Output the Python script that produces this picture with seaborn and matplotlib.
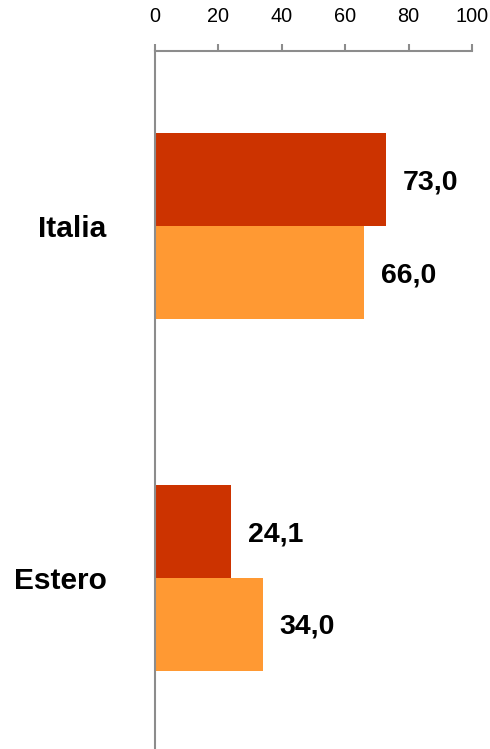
import matplotlib
matplotlib.use("Agg")
import matplotlib.pyplot as plt
import seaborn as sns
import pandas as pd

# data
categories = ["Italia", "Estero"]
series_names = ["Serie 1", "Serie 2"]
serie_1 = [73.0, 24.1]
serie_2 = [66.0, 34.0]
colors = ["#CC3300", "#FF9933"]

df = pd.DataFrame({
    "area": categories * 2,
    "serie": [series_names[0]] * 2 + [series_names[1]] * 2,
    "valore": serie_1 + serie_2,
})

sns.set_style("white")
plt.rcParams["font.family"] = ["Liberation Sans", "DejaVu Sans"]

fig = plt.figure(figsize=(4.9, 7.49), dpi=100)
ax = fig.add_axes([155 / 490, 0.0, 317 / 490, 698 / 749])

sns.barplot(data=df, x="valore", y="area", hue="serie", order=categories,
            hue_order=series_names, palette=colors, orient="h", width=0.526,
            saturation=1, legend=False, ax=ax, linewidth=0)

# value labels
for cont in ax.containers:
    for bar in cont:
        v = bar.get_width()
        yc = bar.get_y() + bar.get_height() / 2
        ax.annotate(f"{v:.1f}".replace(".", ","), (v, yc), xytext=(12, -2),
                    textcoords="offset points", va="center", ha="left",
                    fontsize=20.5, fontweight="bold", color="black")

ax.set_xlim(0, 100)
ax.set_ylim(1.486, -0.497)
ax.set_xticks([0, 20, 40, 60, 80, 100])
ax.xaxis.tick_top()
ax.set_xlabel("")
ax.set_ylabel("")

grey = "#8c8c8c"
for side in ["right", "bottom"]:
    ax.spines[side].set_visible(False)
for side in ["top", "left"]:
    ax.spines[side].set_color(grey)
    ax.spines[side].set_linewidth(1.5)

ax.tick_params(axis="x", direction="out", length=5, width=1.5, color=grey,
               pad=13, labelsize=14.3, labelcolor="black")
ax.tick_params(axis="y", length=0, pad=35, labelsize=21.5, labelcolor="black")
for lbl in ax.get_yticklabels():
    lbl.set_fontweight("bold")

fig.savefig("out.png", dpi=100)
